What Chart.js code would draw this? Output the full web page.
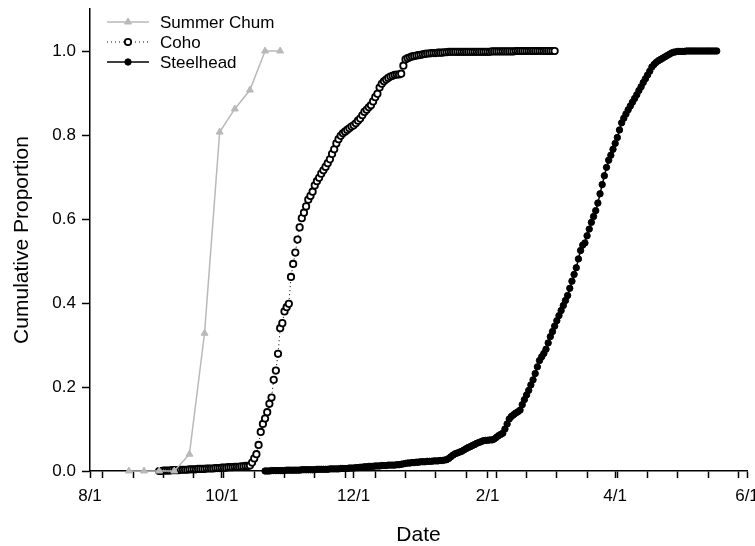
<!DOCTYPE html>
<html>
<head>
<meta charset="utf-8">
<script src="https://cdn.jsdelivr.net/npm/chart.js@4.4.1/dist/chart.umd.min.js"></script>
<style>
  html, body { margin: 0; padding: 0; background: #fff; }
  #wrap { width: 755px; height: 546px; }
</style>
</head>
<body>
<div id="wrap"><canvas id="chart" width="755" height="546"></canvas></div>
<script>
// x values are days counted from 8/1
const majorTickDays = [0, 61, 122, 184, 243, 304];
const tickLabels = ['8/1', '10/1', '12/1', '2/1', '4/1', '6/1'];
const yTicks = [0, 0.2, 0.4, 0.6, 0.8, 1.0];

// Summer Chum, weekly samples
const chumDays = [18, 25, 32, 39, 46, 53, 60, 67, 74, 81, 88];
const chumValues = [0, 0, 0, 0, 0.04, 0.328, 0.807, 0.862, 0.907, 1.0, 1.0];

// Coho, daily from day 32
const cohoStartDay = 32;
const cohoValues = [
  0.000, 0.000, 0.001, 0.001, 0.001, 0.001, 0.002, 0.002, 0.002,
  0.002, 0.003, 0.003, 0.003, 0.003, 0.004, 0.004, 0.004, 0.004, 0.005,
  0.005, 0.005, 0.005, 0.006, 0.006, 0.006, 0.006, 0.007, 0.007, 0.007,
  0.008, 0.008, 0.008, 0.009, 0.009, 0.009, 0.010, 0.010, 0.010, 0.011,
  0.011, 0.012, 0.012, 0.013,
  0.020, 0.030, 0.040, 0.062, 0.093, 0.112, 0.125, 0.140, 0.160, 0.175,
  0.217, 0.239, 0.279, 0.340, 0.352, 0.380, 0.390, 0.398, 0.462, 0.493,
  0.520, 0.551, 0.580, 0.602, 0.615, 0.630, 0.646, 0.655, 0.665, 0.680,
  0.690, 0.698, 0.708, 0.716, 0.724, 0.733, 0.742, 0.755, 0.766, 0.780,
  0.790, 0.798, 0.804, 0.808, 0.812, 0.816, 0.820, 0.823, 0.828, 0.834,
  0.839, 0.847, 0.855, 0.860, 0.866, 0.871, 0.880, 0.890, 0.898, 0.913,
  0.922, 0.928, 0.932, 0.936, 0.939, 0.941, 0.943, 0.944, 0.944, 0.946,
  0.965, 0.980, 0.983, 0.985, 0.987, 0.988, 0.989, 0.990, 0.991, 0.992, 0.993,
  0.994, 0.994, 0.995, 0.995, 0.995, 0.996, 0.996, 0.996, 0.997, 0.997, 0.998,
  0.998, 0.998, 0.998, 0.998, 0.998, 0.998, 0.998, 0.998, 0.998, 0.998,
  0.998, 0.998, 0.998, 0.998, 0.998, 0.998, 0.998, 0.998, 0.998,
  0.999, 0.999, 0.999, 0.999, 0.999, 0.999, 0.999, 0.999, 0.999, 0.999, 0.999,
  1.000, 1.000, 1.000, 1.000, 1.000, 1.000, 1.000, 1.000, 1.000, 1.000,
  1.000, 1.000, 1.000, 1.000, 1.000, 1.000, 1.000, 1.000, 1.000
];

// Steelhead, daily from day 81
const steelheadStartDay = 81;
const steelheadValues = [
  0.000, 0.000, 0.000, 0.001, 0.001, 0.001, 0.001, 0.001, 0.001, 0.001,
  0.002, 0.002, 0.002, 0.002, 0.002, 0.002, 0.002, 0.003, 0.003, 0.003,
  0.003, 0.003, 0.003, 0.003, 0.004, 0.004, 0.004, 0.004, 0.004, 0.004,
  0.005, 0.005, 0.005, 0.005, 0.005, 0.006, 0.006, 0.006, 0.006, 0.007,
  0.007, 0.007, 0.008, 0.008, 0.009, 0.009, 0.010, 0.010, 0.011, 0.011,
  0.011, 0.012, 0.012, 0.012, 0.013, 0.013, 0.013, 0.014, 0.014, 0.014, 0.014, 0.015, 0.015,
  0.016, 0.017, 0.018, 0.019, 0.019, 0.020, 0.020, 0.021, 0.021, 0.022, 0.022, 0.022,
  0.023, 0.023, 0.023, 0.024, 0.024, 0.024, 0.025, 0.025, 0.026, 0.027,
  0.030, 0.034, 0.038, 0.041, 0.043, 0.045, 0.047, 0.050, 0.053, 0.056,
  0.058, 0.061, 0.063, 0.066, 0.068, 0.070, 0.072, 0.073, 0.073, 0.074,
  0.074, 0.076, 0.080, 0.084, 0.087, 0.090, 0.100, 0.112, 0.124, 0.130,
  0.134, 0.138, 0.141, 0.145, 0.158, 0.170, 0.181, 0.192, 0.205, 0.217,
  0.232, 0.248, 0.263, 0.272, 0.280, 0.290, 0.305, 0.320, 0.332, 0.345,
  0.358, 0.370, 0.382, 0.394, 0.406, 0.418, 0.435, 0.452, 0.468, 0.484,
  0.505, 0.525, 0.538, 0.543, 0.560, 0.576, 0.592, 0.606, 0.620, 0.638,
  0.660, 0.682, 0.703, 0.723, 0.740, 0.752, 0.766, 0.780, 0.794, 0.812,
  0.829, 0.840, 0.850, 0.860, 0.869, 0.878, 0.887, 0.896, 0.906, 0.915,
  0.925, 0.934, 0.943, 0.952, 0.962, 0.968, 0.973, 0.977, 0.980, 0.983,
  0.986, 0.989, 0.992, 0.995, 0.997, 0.998, 0.999, 0.999, 0.999, 0.999,
  1.000, 1.000, 1.000, 1.000, 1.000, 1.000, 1.000, 1.000, 1.000, 1.000,
  1.000, 1.000, 1.000, 1.000, 1.000
];

const chumGray = '#b9b9b9';

const chumData = chumDays.map((d, i) => ({x: d, y: chumValues[i]}));
const cohoData = cohoValues.map((v, i) => ({x: cohoStartDay + i, y: v}));
const steelheadData = steelheadValues.map((v, i) => ({x: steelheadStartDay + i, y: v}));

// minor ticks every 14 days starting 8/7
const minorTickDays = [];
for (let d = 6; d < 304; d += 14) minorTickDays.push(d);

Chart.defaults.font.family = '"Liberation Sans", Arial, sans-serif';
Chart.defaults.color = '#000';

// legend drawn like the original: line sample with the marker in the middle
const sampleLegend = {
    id: 'sampleLegend',
    afterDraw(chart) {
        const ctx = chart.ctx;
        const rows = [
            {ds: chart.data.datasets[0], y: 22},
            {ds: chart.data.datasets[1], y: 42},
            {ds: chart.data.datasets[2], y: 62}
        ];
        ctx.save();
        rows.forEach(r => {
            ctx.strokeStyle = r.ds.borderColor;
            ctx.lineWidth = r.ds.borderWidth;
            ctx.setLineDash(r.ds.borderDash || []);
            ctx.beginPath();
            ctx.moveTo(107, r.y);
            ctx.lineTo(149, r.y);
            ctx.stroke();
            ctx.setLineDash([]);
            ctx.fillStyle = r.ds.pointBackgroundColor;
            ctx.strokeStyle = r.ds.pointBorderColor;
            ctx.lineWidth = r.ds.pointBorderWidth;
            Chart.helpers.drawPoint(ctx, {
                pointStyle: r.ds.pointStyle,
                radius: r.ds.pointRadius,
                rotation: 0,
                borderWidth: r.ds.pointBorderWidth
            }, 128, r.y);
            ctx.fillStyle = '#000';
            ctx.font = '17px "Liberation Sans", Arial, sans-serif';
            ctx.textBaseline = 'middle';
            ctx.textAlign = 'left';
            ctx.fillText(r.ds.label, 160, r.y + 1);
        });
        ctx.restore();
    }
};

new Chart(document.getElementById('chart'), {
    type: 'scatter',
    data: {
        datasets: [
            {
                label: 'Summer Chum',
                data: chumData,
                showLine: true,
                borderColor: chumGray,
                borderWidth: 1.5,
                pointStyle: 'triangle',
                pointRadius: 4,
                pointBackgroundColor: chumGray,
                pointBorderColor: chumGray,
                pointBorderWidth: 1,
                clip: false
            },
            {
                label: 'Coho',
                data: cohoData,
                showLine: true,
                borderColor: '#000',
                borderWidth: 1,
                borderDash: [1, 3],
                pointStyle: 'circle',
                pointRadius: 3.2,
                pointBackgroundColor: '#fff',
                pointBorderColor: '#000',
                pointBorderWidth: 1.8,
                clip: false
            },
            {
                label: 'Steelhead',
                data: steelheadData,
                showLine: true,
                borderColor: '#000',
                borderWidth: 1.5,
                pointStyle: 'circle',
                pointRadius: 3.2,
                pointBackgroundColor: '#000',
                pointBorderColor: '#000',
                pointBorderWidth: 1,
                clip: false
            }
        ]
    },
    options: {
        responsive: false,
        animation: false,
        layout: { padding: { left: 0, right: 8, top: 9, bottom: 0 } },
        plugins: {
            legend: { display: false },
            tooltip: { enabled: false }
        },
        scales: {
            x: {
                type: 'linear',
                min: 0,
                max: 304,
                afterBuildTicks: (scale) => {
                    const t = majorTickDays.map(d => ({value: d}));
                    minorTickDays.forEach(d => t.push({value: d}));
                    scale.ticks = t.sort((a, b) => a.value - b.value);
                },
                afterFit: (scale) => {
                    scale.height = 75;
                    scale.paddingLeft = 0;
                    scale.paddingRight = 0;
                },
                ticks: {
                    autoSkip: false,
                    maxRotation: 0,
                    padding: 8,
                    font: { size: 17 },
                    callback: (v) => {
                        const i = majorTickDays.indexOf(v);
                        return i >= 0 ? tickLabels[i] : '';
                    }
                },
                grid: {
                    drawOnChartArea: false,
                    drawTicks: true,
                    tickLength: 7,
                    tickWidth: 1.5,
                    tickColor: '#000'
                },
                border: { color: '#000', width: 1.5 },
                title: {
                    display: true,
                    text: 'Date',
                    font: { size: 21, lineHeight: 1 },
                    padding: 0
                }
            },
            y: {
                min: 0,
                max: 1.1,
                afterBuildTicks: (scale) => {
                    scale.ticks = yTicks.map(v => ({value: v}));
                },
                afterFit: (scale) => {
                    scale.width = 90;
                    scale.paddingTop = 0;
                    scale.paddingBottom = 0;
                },
                ticks: {
                    padding: 6,
                    font: { size: 17 },
                    callback: (v) => Number(v).toFixed(1)
                },
                grid: {
                    drawOnChartArea: false,
                    drawTicks: true,
                    tickLength: 8,
                    tickWidth: 1.5,
                    tickColor: '#000'
                },
                border: { color: '#000', width: 1.5 },
                title: {
                    display: true,
                    text: 'Cumulative Proportion',
                    font: { size: 21, lineHeight: 1 },
                    padding: { top: 12, bottom: 0 }
                }
            }
        }
    },
    plugins: [sampleLegend]
});
</script>
</body>
</html>
